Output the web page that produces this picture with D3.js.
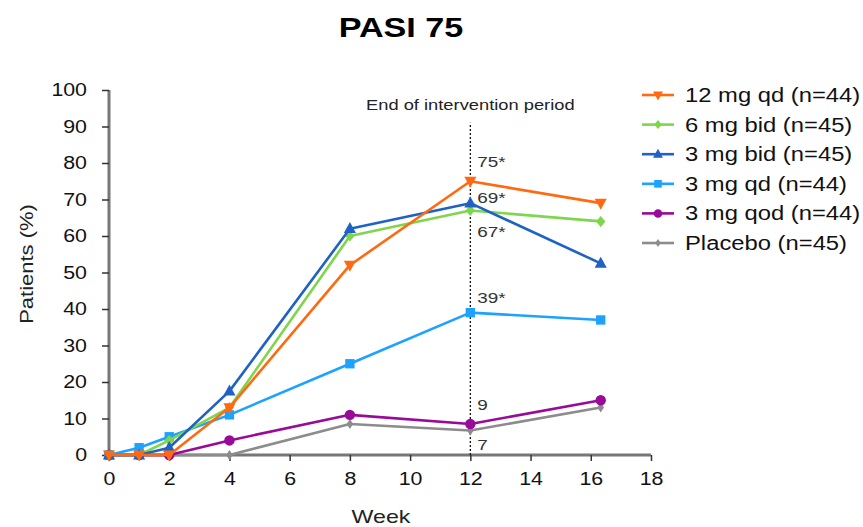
<!DOCTYPE html>
<html>
<head>
<meta charset="utf-8">
<script src="https://cdn.jsdelivr.net/npm/d3@7"></script>
<style>
  body { margin: 0; background: #fff; }
  text { font-family: "Liberation Sans", Arial, sans-serif; }
</style>
</head>
<body>
<script>
// data
const weeks = [0, 1, 2, 4, 8, 12, 16.33];
const seriesNames = [
  "12 mg qd (n=44)",
  "6 mg bid (n=45)",
  "3 mg bid (n=45)",
  "3 mg qd (n=44)",
  "3 mg qod (n=44)",
  "Placebo (n=45)",
];
const qd12 = [0, 0, 0, 13, 52, 75, 69];
const bid6 = [0, 0, 4, 13, 60, 67, 64];
const bid3 = [0, 0, 2, 17.5, 62, 69, 52.5];
const qd3 = [0, 2, 5, 11, 25, 39, 37];
const qod3 = [0, 0, 0, 4, 11, 8.5, 15];
const placebo = [0, 0, 0, 0, 8.5, 6.7, 13];
const week12Labels = ["75*", "69*", "67*", "39*", "9", "7"];
const yTicks = d3.range(0, 101, 10);
const xTicks = d3.range(0, 19, 2);

const colors = ["#ff6a10", "#7fd64c", "#1f62c4", "#1ea2ff", "#990a99", "#8c8c8c"];
const symbols = ["triDown", "diamond", "triUp", "square", "circle", "plus"];
const allValues = [qd12, bid6, bid3, qd3, qod3, placebo];

const W = 863, H = 527;
const margin = { left: 109, top: 90, right: 212, bottom: 72 };
const stretch = 1.22; // the reference text is drawn wider than Liberation Sans

const svg = d3.select("body").append("svg")
  .attr("width", W).attr("height", H);

const x = d3.scaleLinear().domain([0, 18]).range([margin.left, W - margin.right]);
const y = d3.scaleLinear().domain([0, 100]).range([H - margin.bottom, margin.top]);

// title
svg.append("text")
  .attr("x", 401).attr("y", 37)
  .attr("text-anchor", "middle")
  .attr("font-size", 28).attr("font-weight", "bold")
  .text("PASI 75");

// axes
const axisColor = "#777";
const gy = svg.append("g")
  .attr("transform", `translate(${margin.left},0)`)
  .call(d3.axisLeft(y).tickValues(yTicks).tickSize(7).tickPadding(15));
const gx = svg.append("g")
  .attr("transform", `translate(0,${y(0)})`)
  .call(d3.axisBottom(x).tickValues(xTicks).tickSize(6).tickPadding(12));
[gx, gy].forEach((g) => {
  g.select(".domain").attr("stroke", axisColor).attr("stroke-width", 3);
  g.selectAll(".tick line").attr("stroke", "#333").attr("stroke-width", 1.5);
  g.selectAll(".tick text").attr("font-size", 17.5).attr("fill", "#111")
    .attr("font-family", "Liberation Sans, Arial, sans-serif");
});
gx.select(".domain").attr("d", `M${x(0)},0H${x(18)}`);
gy.select(".domain").attr("d", `M0,${y(100)}V${y(0)}`);

// axis titles
svg.append("text")
  .attr("transform", `translate(33,264) rotate(-90)`)
  .attr("text-anchor", "middle")
  .attr("font-size", 18).attr("fill", "#222")
  .text("Patients (%)");
svg.append("text")
  .attr("x", 381).attr("y", 523)
  .attr("text-anchor", "middle")
  .attr("font-size", 19).attr("fill", "#222")
  .text("Week");

// end of intervention line
svg.append("line")
  .attr("x1", x(12)).attr("x2", x(12))
  .attr("y1", y(0)).attr("y2", y(91))
  .attr("stroke", "#111").attr("stroke-width", 1.3)
  .attr("stroke-dasharray", "2,2");
svg.append("text")
  .attr("x", x(12)).attr("y", 110)
  .attr("text-anchor", "middle")
  .attr("font-size", 15).attr("fill", "#222")
  .text("End of intervention period");

function marker(g, type, color, size) {
  const s = size;
  if (type === "circle") {
    g.append("circle").attr("r", s * 0.95).attr("fill", color);
  } else if (type === "square") {
    g.append("rect").attr("x", -s * 0.85).attr("y", -s * 0.85)
      .attr("width", s * 1.7).attr("height", s * 1.7).attr("fill", color);
  } else if (type === "triUp") {
    g.append("path").attr("d", `M0,${-s * 1.2}L${s * 1.1},${s * 0.8}L${-s * 1.1},${s * 0.8}Z`).attr("fill", color);
  } else if (type === "triDown") {
    g.append("path").attr("d", `M0,${s * 1.2}L${s * 1.1},${-s * 0.8}L${-s * 1.1},${-s * 0.8}Z`).attr("fill", color);
  } else if (type === "diamond") {
    g.append("path").attr("d", `M0,${-s}L${s * 0.85},0L0,${s}L${-s * 0.85},0Z`).attr("fill", color);
  } else if (type === "plus") {
    g.append("path").attr("d", `M0,${-s * 0.9}L${s * 0.6},0L0,${s * 0.9}L${-s * 0.6},0Z`).attr("fill", color);
  }
}

const line = d3.line().x((d) => x(d[0])).y((d) => y(d[1]));

// draw back to front so orange ends on top
const order = [5, 4, 3, 1, 2, 0];
order.forEach((i) => {
  const pts = weeks.map((w, k) => [w, allValues[i][k]]);
  const g = svg.append("g");
  g.append("path")
    .attr("d", line(pts))
    .attr("fill", "none")
    .attr("stroke", colors[i])
    .attr("stroke-width", 2.6)
    .attr("stroke-linejoin", "round");
  g.selectAll("g.pt").data(pts).enter().append("g")
    .attr("class", "pt")
    .attr("transform", (d) => `translate(${x(d[0])},${y(d[1])})`)
    .each(function () { marker(d3.select(this), symbols[i], colors[i], 5.5); });
});

// week 12 annotations
const labelY = [167, 203, 237, 303, 410, 450];
week12Labels.forEach((t, i) => {
  svg.append("text")
    .attr("x", x(12) + 7).attr("y", labelY[i])
    .attr("font-size", 15.5).attr("fill", "#333")
    .text(t);
});

// legend
const legend = svg.append("g").attr("transform", "translate(642,95)");
seriesNames.forEach((name, i) => {
  const row = legend.append("g").attr("transform", `translate(0,${i * 29.6})`);
  row.append("line").attr("x1", 0).attr("x2", 32)
    .attr("stroke", colors[i]).attr("stroke-width", 2.6);
  const m = row.append("g").attr("transform", "translate(16,0)");
  marker(m, symbols[i], colors[i], 4.5);
  row.append("text")
    .attr("x", 43).attr("y", 7)
    .attr("font-size", 19.5).attr("fill", "#111")
    .text(name);
});

// widen every text to match the reference glyph proportions
svg.selectAll("text").each(function () {
  const len = this.getComputedTextLength();
  d3.select(this)
    .attr("textLength", len * stretch)
    .attr("lengthAdjust", "spacingAndGlyphs");
});
</script>
</body>
</html>
